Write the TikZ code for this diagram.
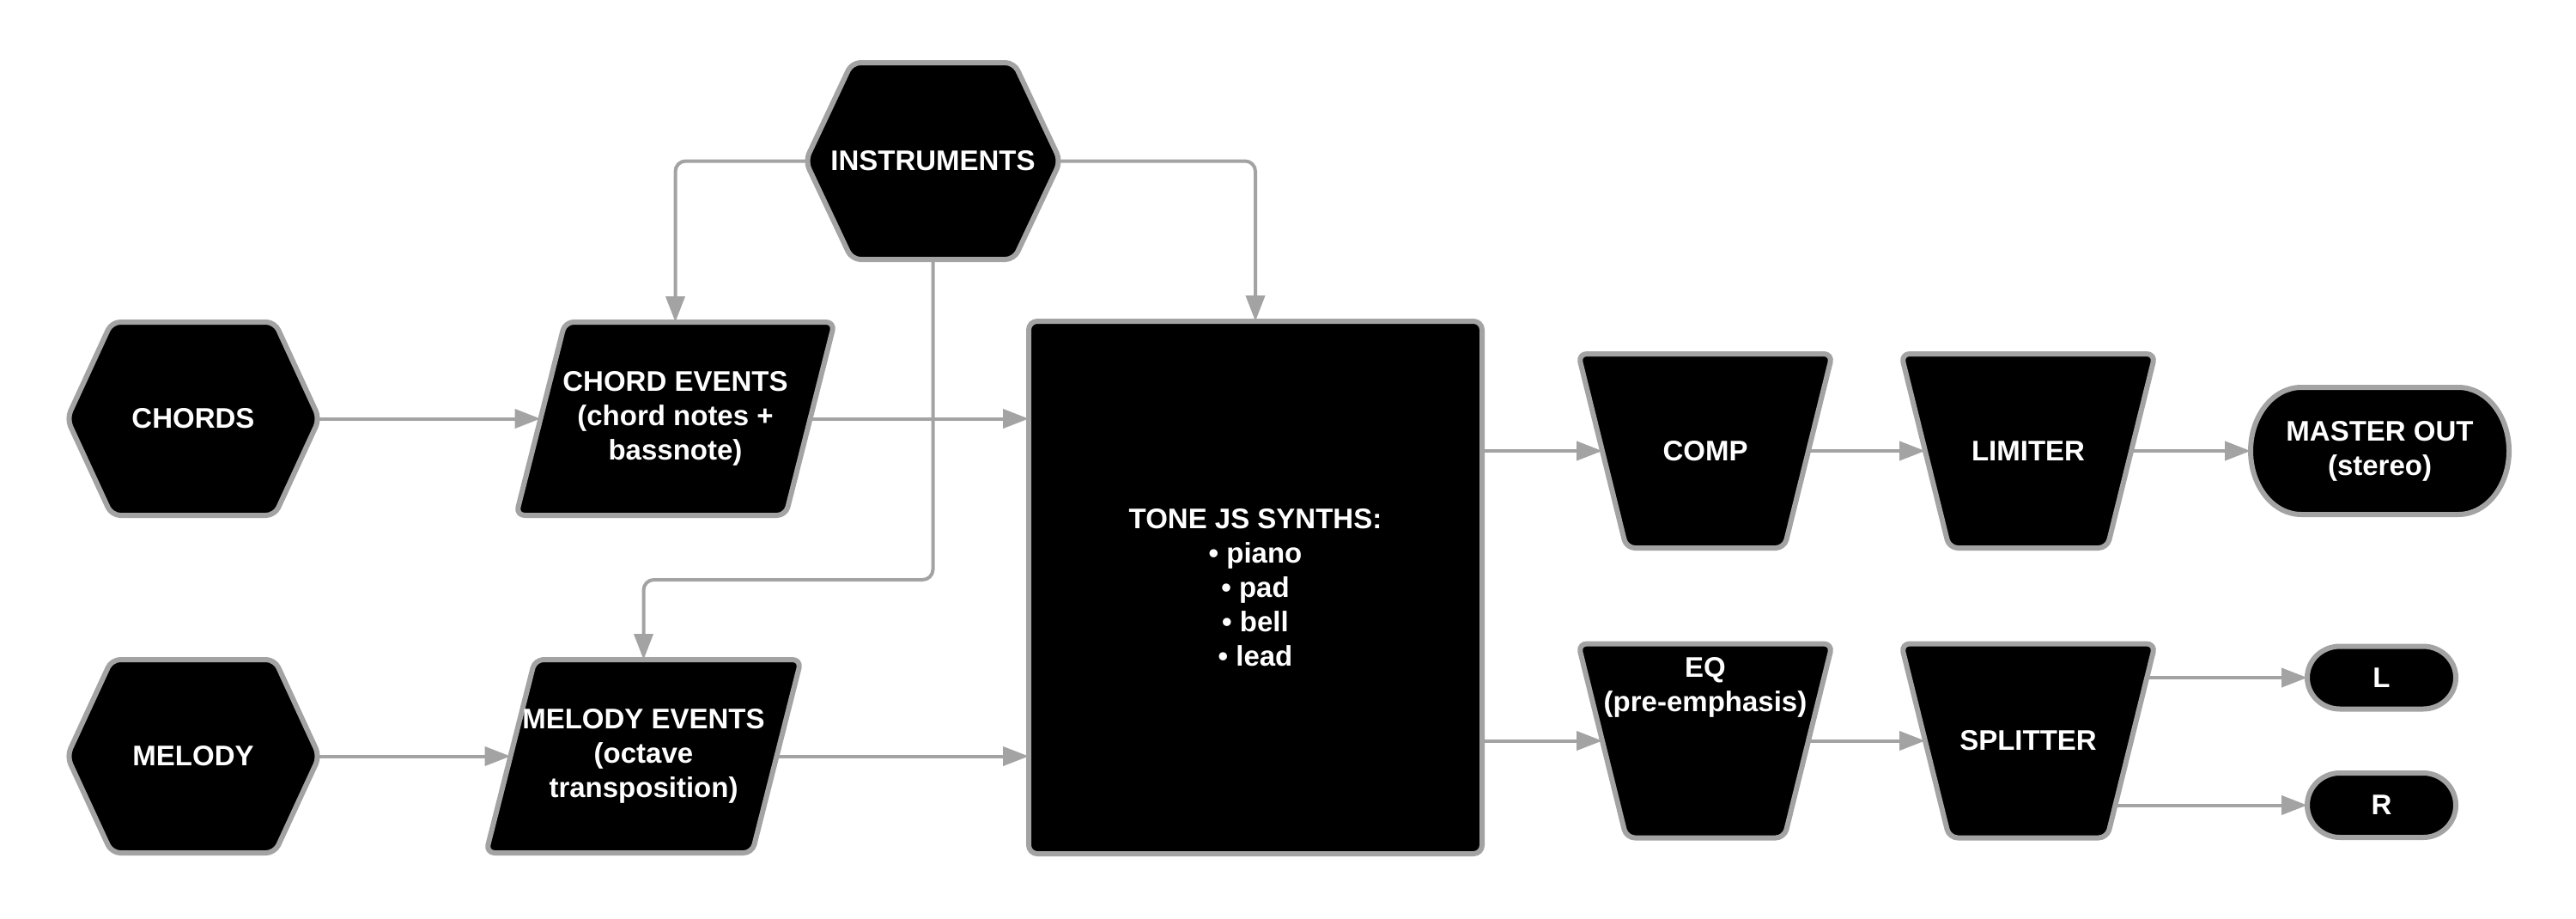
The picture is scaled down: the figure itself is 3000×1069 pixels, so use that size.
\documentclass[tikz,border=0pt]{standalone}
\usepackage{fontspec}
\setmainfont{Liberation Sans}
\usetikzlibrary{arrows.meta,calc}
\definecolor{lc}{RGB}{163,163,163}
\pgfdeclarelayer{back}
\pgfdeclarelayer{edges}
\pgfdeclarelayer{shapes}
\pgfsetlayers{back,edges,shapes,main}
\tikzset{
  txt/.style={text=white, font=\fontsize{33}{40}\selectfont\bfseries, align=center, inner sep=0pt, outer sep=0pt},
  box/.style 2 args={txt, minimum width=#1, minimum height=#2},
  shp/.style={fill=black, draw=lc, line width=6pt, rounded corners=10pt, line join=round},
  conn/.style={draw=lc, line width=4pt, -{Triangle[length=30pt,width=22pt]}},
}
\newcommand\hexshape[2]{\path[shp] (#1.north) -- ([xshift=-#2]#1.north east) -- (#1.east) -- ([xshift=-#2]#1.south east) -- ([xshift=#2]#1.south west) -- (#1.west) -- ([xshift=#2]#1.north west) -- cycle;}
\newcommand\parashape[2]{\path[shp] (#1.north) -- (#1.north east) -- ([xshift=-#2]#1.south east) -- (#1.south west) -- ([xshift=#2]#1.north west) -- cycle;}
\newcommand\trapshape[2]{\path[shp] (#1.north) -- (#1.north east) -- ([xshift=-#2]#1.south east) -- ([xshift=#2]#1.south west) -- (#1.north west) -- cycle;}
\newcommand\pillshape[3]{\path[shp,rounded corners=0pt] (#1.north) -- ([xshift=-#2]#1.north east)
  .. controls ([xshift=-0.4477*#2]#1.north east) and ([yshift=0.5523*#3]#1.east) .. (#1.east)
  .. controls ([yshift=-0.5523*#3]#1.east) and ([xshift=-0.4477*#2]#1.south east) .. ([xshift=-#2]#1.south east)
  -- ([xshift=#2]#1.south west)
  .. controls ([xshift=0.4477*#2]#1.south west) and ([yshift=-0.5523*#3]#1.west) .. (#1.west)
  .. controls ([yshift=0.5523*#3]#1.west) and ([xshift=0.4477*#2]#1.north west) .. ([xshift=#2]#1.north west)
  -- cycle;}
\begin{document}
\begin{tikzpicture}[x=1pt,y=-1pt]
\useasboundingbox (0,0) rectangle (3000,1069);
\begin{pgfonlayer}{back}
\fill[white] (0,0) rectangle (3000,1069);
\end{pgfonlayer}
% nodes
\node[box={294pt}{225pt}] (chords) at (225,487.5) {CHORDS};
\node[box={294pt}{225pt}] (melody) at (225,880.5) {MELODY};
\node[box={297pt}{229pt}] (instr) at (1086.5,187.5) {INSTRUMENTS};
\node[box={371pt}{225pt}] (ce) at (786.5,487.5) {CHORD EVENTS\\(chord notes +\\bassnote)};
\node[box={367pt}{225pt}] (me) at (749.5,880.5) {MELODY EVENTS\\(octave\\transposition)};
\node[box={528pt}{620pt}] (tone) at (1462,684) {TONE JS SYNTHS:\\• piano\\• pad\\• bell\\• lead};
\node[box={296pt}{226pt}] (comp) at (1986,525) {COMP};
\node[box={296pt}{226pt}] (lim) at (2362,525) {LIMITER};
\node[box={301pt}{148pt}] (master) at (2771.5,525) {MASTER OUT\\(stereo)};
\node[box={296pt}{226pt}] (eq) at (1986,862.5) {\begin{minipage}[c][226pt][t]{296pt}\centering\rule{0pt}{39pt}EQ\\(pre-emphasis)\end{minipage}};
\node[box={296pt}{226pt}] (split) at (2362,862.5) {SPLITTER};
\node[box={173pt}{73pt}] (L) at (2773.5,789) {L};
\node[box={173pt}{75pt}] (R) at (2773.5,937.5) {R};
\coordinate (bend) at (1086.5,675);
% shapes
\begin{pgfonlayer}{shapes}
\hexshape{chords}{52pt}
\hexshape{melody}{52pt}
\hexshape{instr}{54pt}
\parashape{ce}{57pt}
\parashape{me}{57pt}
\path[shp] (tone.north west) rectangle (tone.south east);
\trapshape{comp}{56pt}
\trapshape{lim}{56pt}
\trapshape{eq}{56pt}
\trapshape{split}{56pt}
\pillshape{master}{59pt}{74pt}
\pillshape{L}{38pt}{36.5pt}
\pillshape{R}{38pt}{37.5pt}
\end{pgfonlayer}
% connectors
\begin{pgfonlayer}{edges}
\draw[conn] (chords.center) -- ($(ce.west)+(28.5,0)$);
\draw[conn] (ce.center) -- (tone.west |- ce.center);
\draw[conn] (melody.center) -- ($(me.west)+(28.5,0)$);
\draw[conn] (me.center) -- (tone.west |- me.center);
\draw[conn, rounded corners=12pt] (instr.center) -- (ce.north |- instr.center) -- (ce.north);
\draw[conn, rounded corners=12pt] (instr.center) -- (tone.north |- instr.center) -- (tone.north);
\draw[conn, rounded corners=12pt] (instr.center) -- (bend) -- (me.north |- bend) -- (me.north);
\draw[conn] (tone.center |- comp.center) -- ($(comp.west)+(28,0)$);
\draw[conn] (comp.center) -- ($(lim.west)+(28,0)$);
\draw[conn] (lim.center) -- (master.west);
\draw[conn] (tone.center |- eq.center) -- ($(eq.west)+(28,0)$);
\draw[conn] (eq.center) -- ($(split.west)+(28,0)$);
\draw[conn] (split.center |- L.center) -- (L.west);
\draw[conn] (split.center |- R.center) -- (R.west);
\end{pgfonlayer}
\end{tikzpicture}
\end{document}
